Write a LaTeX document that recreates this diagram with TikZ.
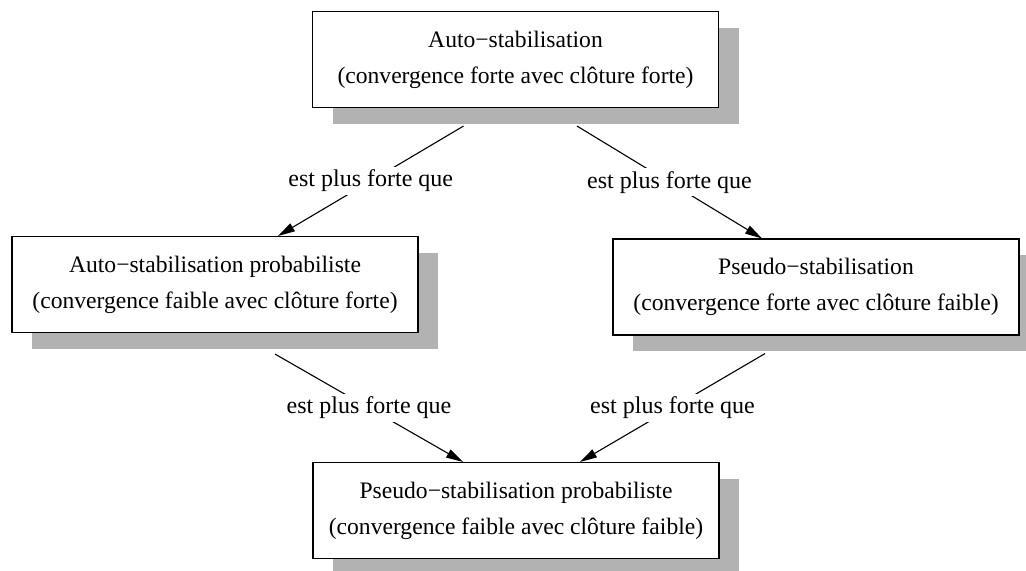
\documentclass[tikz,border=0pt]{standalone}
\usepackage{fontspec}
\setmainfont{Liberation Serif}
\usetikzlibrary{arrows.meta,shadows}

\begin{document}
\begin{tikzpicture}[x=0.5pt,y=-0.5pt,line width=0.55pt,>={Triangle[length=8.5pt,width=4.5pt]},
  etat/.style={draw,fill=white,minimum width=203pt,minimum height=48pt,align=center,
    font=\fontsize{11.8}{18}\selectfont,
    drop shadow={shadow xshift=10pt,shadow yshift=-8pt,fill=black!30,opacity=1}},
  rel/.style={fill=white,inner sep=1.5pt,font=\fontsize{12}{14}\selectfont}]
\useasboundingbox (0,0) rectangle (1026,570);
% ---------- the four properties ----------
\node[etat] (auto) at (515.5,59.5) {Auto−stabilisation\\(convergence forte avec clôture forte)};
\node[etat] (autoproba) at (215,284.5) {Auto−stabilisation probabiliste\\(convergence faible avec clôture forte)};
\node[etat] (pseudo) at (816,287) {Pseudo−stabilisation\\(convergence forte avec clôture faible)};
\node[etat] (pseudoproba) at (516,510.5) {Pseudo−stabilisation probabiliste\\(convergence faible avec clôture faible)};
% ---------- est plus forte que ----------
\draw[->] ([xshift=-26pt,yshift=-9pt]auto.south) -- node[rel] {est plus forte que} ([xshift=31.5pt]autoproba.north);
\draw[->] ([xshift=30.75pt,yshift=-9pt]auto.south) -- node[rel] {est plus forte que} ([xshift=-27pt]pseudo.north);
\draw[->] ([xshift=30pt,yshift=-10.5pt]autoproba.south) -- node[rel] {est plus forte que} ([xshift=-26.5pt]pseudoproba.north);
\draw[->] ([xshift=-25.5pt,yshift=-9pt]pseudo.south) -- node[rel] {est plus forte que} ([xshift=32pt]pseudoproba.north);
\end{tikzpicture}
\end{document}
